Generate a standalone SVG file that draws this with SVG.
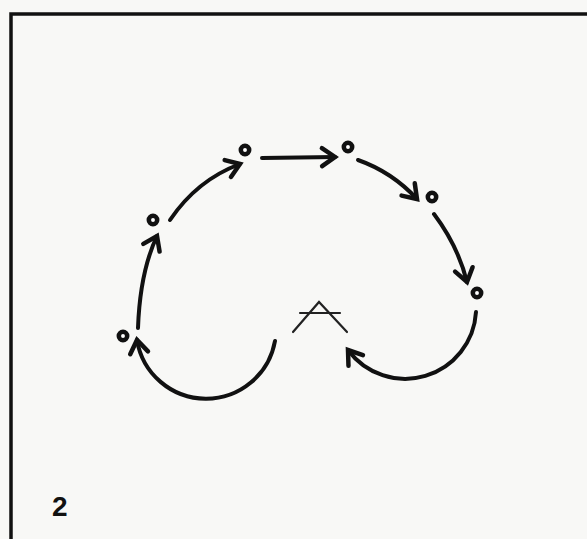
<svg xmlns="http://www.w3.org/2000/svg" width="587" height="539" viewBox="0 0 587 539">
<style>
.frame{fill:none;stroke:#111;stroke-width:3.5}
.node{fill:#fff;stroke:#111;stroke-width:4.5}
.conn{fill:none;stroke:#111;stroke-width:4;stroke-linecap:round;marker-end:url(#ah)}
.sym{fill:none;stroke:#222;stroke-width:2.2;stroke-linecap:round;stroke-linejoin:miter}
.lbl{font-family:"Liberation Sans",Arial,sans-serif;font-weight:bold;font-size:28px;fill:#111}
</style>
<defs>
<marker id="ah" markerUnits="userSpaceOnUse" markerWidth="24" markerHeight="24" refX="16" refY="12" orient="auto" overflow="visible">
<path d="M3,3 L16,12 L3,21" fill="none" stroke="#111" stroke-width="4.5" stroke-linecap="round" stroke-linejoin="miter"/>
</marker>
</defs>
<rect width="587" height="539" fill="#f8f8f6"/>
<path class="frame" d="M11,539 L11,14 L587,14"/>
<g id="connectors">
<path class="conn" d="M138,328 Q140,272 157,236"/>
<path class="conn" d="M170,220 Q197,180 240,164"/>
<path class="conn" d="M262,158 L335,157"/>
<path class="conn" d="M358,160 Q392,172 417,199"/>
<path class="conn" d="M434,214 Q458,246 467,282"/>
<path class="conn" d="M476,312 A71,71 0 0 1 348,350"/>
<path class="conn" d="M275,341 A70,70 0 0 1 137,340"/>
</g>
<g id="n1"><circle class="node" cx="123" cy="336" r="4.2"/></g>
<g id="n2"><circle class="node" cx="153" cy="220" r="4.2"/></g>
<g id="n3"><circle class="node" cx="245" cy="150" r="4.2"/></g>
<g id="n4"><circle class="node" cx="348" cy="147" r="4.2"/></g>
<g id="n5"><circle class="node" cx="432" cy="197" r="4.2"/></g>
<g id="n6"><circle class="node" cx="477" cy="293" r="4.2"/></g>
<g id="symbol">
<path class="sym" d="M293,332 L319,302 L347,332"/>
<path class="sym" d="M300,313 L340,313"/>
</g>
<text class="lbl" x="52" y="516">2</text>
</svg>
